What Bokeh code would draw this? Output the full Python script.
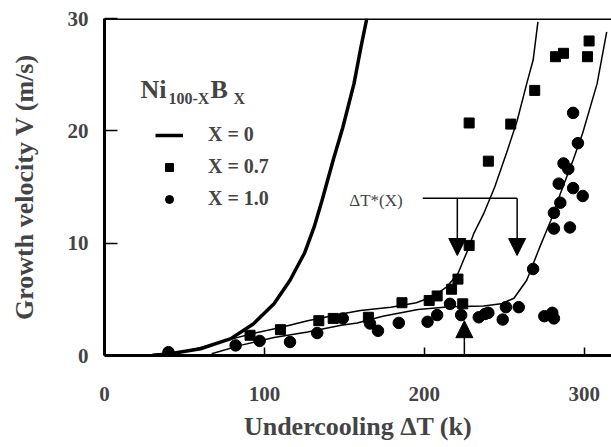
from bokeh.plotting import figure
from bokeh.models import Span, Label, Arrow, NormalHead, FixedTicker, Legend, LegendItem, Title
from bokeh.embed import file_html
from bokeh.resources import INLINE

# ---- model curves: growth velocity V (m/s) vs undercooling dT (K) ----
dt_x0 = [30, 43, 60, 79, 93, 106, 116, 125, 131, 136, 143, 149, 156, 160, 164]
v_x0 = [0.0, 0.2, 0.6, 1.5, 2.8, 4.6, 6.7, 9.1, 11.4, 13.8, 17.4, 20.3, 24.2, 27.2, 30.0]

dt_x07_model = [30, 47, 60, 75, 91, 110, 127, 148, 160, 179, 195, 206, 214, 221,
                227, 231, 237, 244, 252, 258, 264, 268, 271]
v_x07_model = [0.1, 0.3, 0.7, 1.3, 1.9, 2.5, 3.1, 3.7, 4.0, 4.3, 4.7, 5.3, 6.1, 7.3,
               9.35, 10.9, 12.6, 15.0, 18.3, 20.9, 24.2, 26.3, 29.7]

dt_x10_model = [67, 85, 106, 127, 148, 158, 174, 196, 216, 237, 248, 256, 264, 272,
                279, 285, 293, 299, 308, 314]
v_x10_model = [0.15, 0.9, 1.6, 2.1, 2.7, 2.9, 3.5, 4.1, 4.35, 4.4, 4.6, 5.1, 6.7, 9.6,
               12.0, 14.4, 17.4, 19.8, 24.2, 28.8]

# ---- measurements ----
dt_x07 = [91, 110, 134, 143, 165, 186, 203, 208, 217, 221, 224, 228, 228, 240,
          254, 269, 282, 287, 302, 303]
v_x07 = [1.8, 2.3, 3.1, 3.3, 3.4, 4.7, 4.9, 5.3, 5.9, 6.8, 4.6, 9.8, 20.7, 17.3,
         20.6, 23.6, 26.6, 26.9, 26.6, 28.0]

dt_x10 = [40, 82, 97, 116, 133, 149, 166, 171, 184, 202, 208, 216, 223, 234, 238,
          240, 249, 251, 259, 268, 275, 281, 280, 281, 291, 281, 285, 299, 293, 284,
          290, 287, 296, 293]
v_x10 = [0.3, 0.9, 1.3, 1.2, 2.0, 3.3, 2.85, 2.2, 2.9, 3.0, 3.6, 4.6, 3.6, 3.4, 3.7,
         3.8, 3.2, 4.3, 4.3, 7.7, 3.5, 3.3, 3.8, 11.3, 11.4, 12.7, 13.6, 14.2, 14.9, 15.3,
         16.6, 17.1, 18.9, 21.6]

x_ticks = [0, 100, 200, 300]
y_ticks = [0, 10, 20, 30]

# critical undercoolings marked by arrows
dt_star_07 = 220.6
dt_star_10 = 258
dt_up = 225

SERIF = "Liberation Serif"

p = figure(width=611, height=447, x_range=(0, 317), y_range=(0, 30),
           output_backend="svg", toolbar_location=None,
           min_border_left=104, min_border_right=0,
           min_border_top=18, min_border_bottom=92)
p.outline_line_color = None
p.grid.visible = False
p.background_fill_color = "white"
p.border_fill_color = "white"

for ax in (p.xaxis[0], p.yaxis[0]):
    ax.axis_line_width = 3
    ax.major_tick_out = 0
    ax.minor_tick_line_color = None
    ax.major_tick_line_width = 1.5
    ax.major_label_text_font = SERIF
    ax.major_label_text_font_style = "bold"
    ax.major_label_text_font_size = "21px"

p.xaxis.ticker = FixedTicker(ticks=x_ticks)
p.yaxis.ticker = FixedTicker(ticks=y_ticks)
p.xaxis.major_tick_in = 8
p.yaxis.major_tick_in = 13
p.xaxis.major_label_standoff = 31
p.yaxis.major_label_standoff = 16

p.yaxis.axis_label = "Growth velocity V (m/s)"
p.yaxis.axis_label_text_font = SERIF
p.yaxis.axis_label_text_font_style = "bold"
p.yaxis.axis_label_text_font_size = "26px"
p.yaxis.axis_label_standoff = 26

# x-axis title, shifted a little left of the frame centre
p.add_layout(Title(text="Undercooling \u0394T (k)", align="center", offset=-26,
                   standoff=13, text_font=SERIF, text_font_style="bold",
                   text_font_size="26px"), "below")

# top border of the frame
p.add_layout(Span(location=30, dimension="width", line_color="black", line_width=3))

# curves
r0 = p.line(dt_x0, v_x0, line_color="black", line_width=3.5)
p.line(dt_x07_model, v_x07_model, line_color="black", line_width=1.5)
p.line(dt_x10_model, v_x10_model, line_color="black", line_width=1.5)

r07 = p.scatter(dt_x07, v_x07, marker="square", size=10, color="black")
r10 = p.scatter(dt_x10, v_x10, marker="circle", size=11.5, color="black")

legend = Legend(items=[LegendItem(label="X = 0", renderers=[r0]),
                       LegendItem(label="X = 0.7", renderers=[r07]),
                       LegendItem(label="X = 1.0", renderers=[r10])],
                location=(51, 145), padding=0, margin=0, spacing=9,
                glyph_width=28, glyph_height=20, label_height=20,
                label_standoff=25, border_line_color=None,
                background_fill_color=None,
                label_text_font=SERIF, label_text_font_style="bold",
                label_text_font_size="20px", label_text_baseline="middle")
p.add_layout(legend, "center")

# alloy label Ni(100-X)B(X)
for txt, xx, yy, fs in [("Ni", 22.5, 23.7, "26px"), ("100-X", 40, 22.9, "16px"),
                        ("B", 66.25, 23.7, "26px"), ("X", 80.6, 22.9, "16px")]:
    p.add_layout(Label(x=xx, y=yy, text=txt, text_font=SERIF, text_font_style="bold",
                       text_font_size=fs, text_align="left", text_baseline="alphabetic"))

# dT*(X) bracket with arrows
p.add_layout(Label(x=153, y=13.8, text="\u0394T*(X)", text_font=SERIF,
                   text_font_size="17px", text_align="left", text_baseline="middle"))
p.segment(x0=[199], y0=[14.0], x1=[dt_star_10], y1=[14.0], line_color="black", line_width=1.5)
for xs in (dt_star_07, dt_star_10):
    p.add_layout(Arrow(x_start=xs, y_start=14.0, x_end=xs, y_end=8.9,
                       line_width=1.5, end=NormalHead(size=17, fill_color="black",
                                                      line_color="black")))
p.add_layout(Arrow(x_start=dt_up, y_start=0, x_end=dt_up, y_end=3.1,
                   line_width=1.5, end=NormalHead(size=17, fill_color="black",
                                                  line_color="black")))

open("out.html", "w").write(file_html(p, INLINE))
